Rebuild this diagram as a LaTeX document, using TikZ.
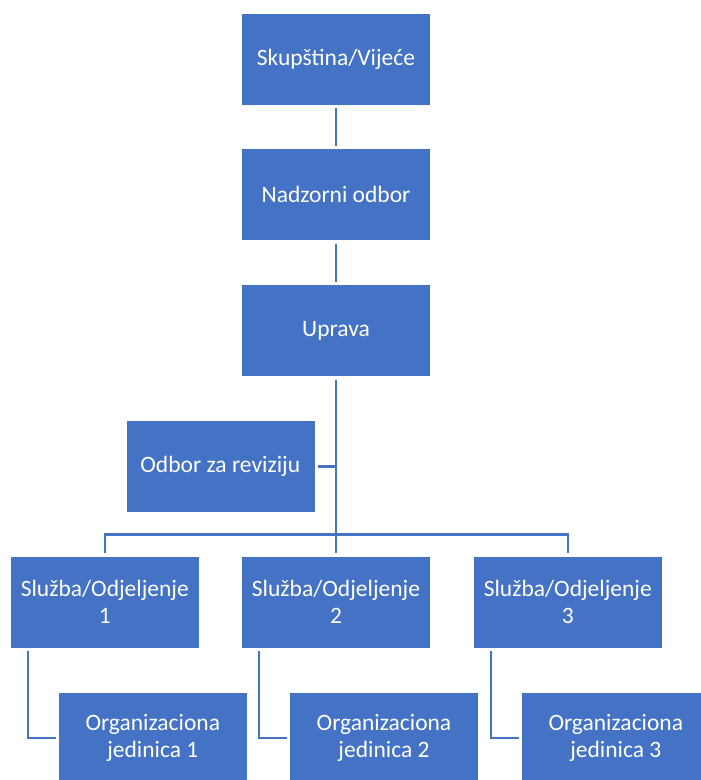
\documentclass[tikz,border=0pt]{standalone}
\usepackage{fontspec}
\setmainfont{Carlito}
\usepackage{tikz}
\usetikzlibrary{positioning,calc}
\definecolor{orgblue}{HTML}{4472C4}

\begin{document}
\begin{tikzpicture}[x=1pt,y=-1pt,
		box/.style={rectangle, draw=white, line width=0.6pt, fill=orgblue, text=white, minimum width=189pt, minimum height=92pt, inner sep=0pt, align=center, font=\fontsize{23.5}{26.5}\selectfont},
		link/.style={draw=orgblue, line width=2.5pt, shorten <=2.5pt, shorten >=2.5pt}]
		\useasboundingbox (0,0) rectangle (701,780);
		
		\node [box] (sv) at (336,59) {Skupština/Vijeće};
		\node [box] (no) at (336,194.7) {Nadzorni odbor};
		\node [box] (up) at (336,330.7) {Uprava};
		\node [box] (or) at (220.3,466.5) {Odbor za reviziju};
		
		\node [box] (s1) at (104.8,602) {Služba/Odjeljenje\\1};
		\node [box] (s2) at (336,602) {Služba/Odjeljenje\\2};
		\node [box] (s3) at (567.8,602) {Služba/Odjeljenje\\3};
		
		\node [box, shift={(48,136)}] (o1) at (s1.center) {Organizaciona\\jedinica 1};
		\node [box, shift={(48,136)}] (o2) at (s2.center) {Organizaciona\\jedinica 2};
		\node [box, shift={(48,136)}] (o3) at (s3.center) {Organizaciona\\jedinica 3};
		
		\coordinate (bus) at (336,534.3);
		\coordinate (tap) at (336,466.5);
		
		\draw[link] (sv.south)--(no.north);
		\draw[link] (no.south)--(up.north);
		\draw[link] (up.south)--(s2.north);
		\draw[link] (s1.north) |- (bus) -| (s3.north);
		\draw[link, shorten >=0pt] (or.east)--(tap);
		
		\draw[link] ($(s1.south west)+(18,0)$) |- (o1.west);
		\draw[link] ($(s2.south west)+(18,0)$) |- (o2.west);
		\draw[link] ($(s3.south west)+(18,0)$) |- (o3.west);
	\end{tikzpicture}
\end{document}
